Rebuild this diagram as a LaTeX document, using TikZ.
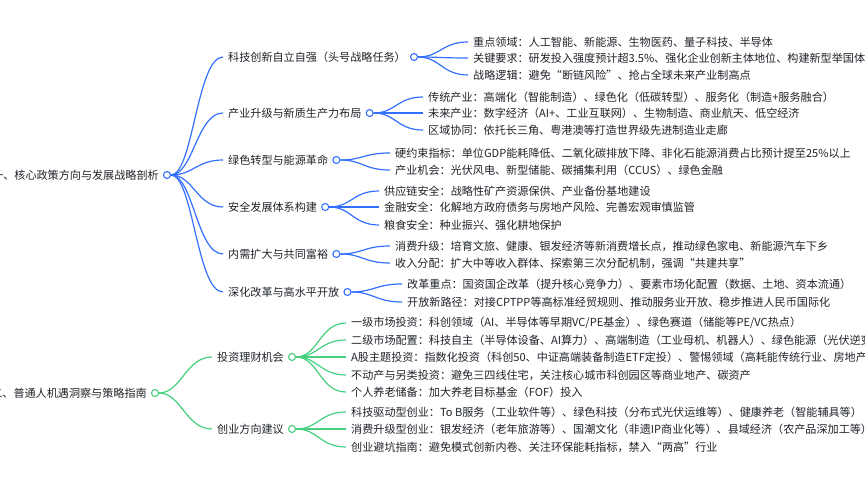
\documentclass[tikz,border=0pt]{standalone}
\usepackage{fontspec}
\setmainfont{Noto Sans CJK SC}
\usetikzlibrary{positioning}

\definecolor{mapblue}{RGB}{51,112,255}
\definecolor{mapgreen}{RGB}{70,208,125}
\definecolor{inkgray}{RGB}{31,35,41}

\begin{document}
\begin{tikzpicture}[
    x=1pt, y=-1pt,
    every node/.style={font=\fontsize{11.1}{13}\selectfont, text=inkgray},
    topic/.style={inner sep=0pt, anchor=west},
    hub/.style={circle, fill=white, line width=1.1pt, inner sep=0pt, minimum size=7pt},
    bline/.style={draw=mapblue, line width=1.2pt},
    gline/.style={draw=mapgreen, line width=1.2pt}
]
\useasboundingbox (0,0) rectangle (865,486);
\clip (0,0) rectangle (865,486);

% part one
\node[hub, draw=mapblue] (r1h) at (167,175) {};
\node[topic, left=4pt of r1h] (r1) {一、核心政策方向与发展战略剖析};

\node[topic] (k1) at (228,57) {科技创新自立自强（头号战略任务）};
\node[topic] (k2) at (228,113) {产业升级与新质生产力布局};
\node[topic] (k3) at (228,160) {绿色转型与能源革命};
\node[topic] (k4) at (228,207) {安全发展体系构建};
\node[topic] (k5) at (228,254) {内需扩大与共同富裕};
\node[topic] (k6) at (228,292) {深化改革与高水平开放};

\foreach \k in {1,...,6}{
  \node[hub, draw=mapblue, right=4pt of k\k] (k\k h) {};
  \draw[bline] (r1h) .. controls +(26,0) and +(-26,0) .. ([xshift=-5pt]k\k.west);
}

\node[topic] (k1a) at (473,42) {重点领域：人工智能、新能源、生物医药、量子科技、半导体};
\node[topic] (k1b) at (473,58) {关键要求：研发投入强度预计超3.5\%、强化企业创新主体地位、构建新型举国体制};
\node[topic] (k1c) at (473,75) {战略逻辑：避免“断链风险”、抢占全球未来产业制高点};

\node[topic] (k2a) at (428,97) {传统产业：高端化（智能制造）、绿色化（低碳转型）、服务化（制造+服务融合）};
\node[topic] (k2b) at (428,113) {未来产业：数字经济（AI+、工业互联网）、生物制造、商业航天、低空经济};
\node[topic] (k2c) at (428,130) {区域协同：依托长三角、粤港澳等打造世界级先进制造业走廊};

\node[topic] (k3a) at (395,153) {硬约束指标：单位GDP能耗降低、二氧化碳排放下降、非化石能源消费占比预计提至25\%以上};
\node[topic] (k3b) at (395,170) {产业机会：光伏风电、新型储能、碳捕集利用（CCUS）、绿色金融};

\node[topic] (k4a) at (384,191) {供应链安全：战略性矿产资源保供、产业备份基地建设};
\node[topic] (k4b) at (384,207) {金融安全：化解地方政府债务与房地产风险、完善宏观审慎监管};
\node[topic] (k4c) at (384,225) {粮食安全：种业振兴、强化耕地保护};

\node[topic] (k5a) at (395,246) {消费升级：培育文旅、健康、银发经济等新消费增长点，推动绿色家电、新能源汽车下乡};
\node[topic] (k5b) at (395,263) {收入分配：扩大中等收入群体、探索第三次分配机制，强调“共建共享”};

\node[topic] (k6a) at (407,284) {改革重点：国资国企改革（提升核心竞争力）、要素市场化配置（数据、土地、资本流通）};
\node[topic] (k6b) at (407,302) {开放新路径：对接CPTPP等高标准经贸规则、推动服务业开放、稳步推进人民币国际化};

\foreach \c in {a,b,c}{
  \draw[bline] (k1h) .. controls +(26,0) and +(-26,0) .. ([xshift=-5pt]k1\c.west);
  \draw[bline] (k2h) .. controls +(26,0) and +(-26,0) .. ([xshift=-5pt]k2\c.west);
  \draw[bline] (k4h) .. controls +(26,0) and +(-26,0) .. ([xshift=-5pt]k4\c.west);
}
\foreach \k in {3,5,6}{
  \foreach \c in {a,b}
    \draw[bline] (k\k h) .. controls +(26,0) and +(-26,0) .. ([xshift=-5pt]k\k\c.west);
}

% part two
\node[hub, draw=mapgreen] (r2h) at (155,393) {};
\node[topic, left=4pt of r2h] (r2) {二、普通人机遇洞察与策略指南};

\node[topic] (g1) at (217,357) {投资理财机会};
\node[topic] (g2) at (217,429) {创业方向建议};

\foreach \g in {1,2}{
  \node[hub, draw=mapgreen, right=4pt of g\g] (g\g h) {};
  \draw[gline] (r2h) .. controls +(26,0) and +(-26,0) .. ([xshift=-5pt]g\g.west);
}

\node[topic] (g1a) at (351,323) {一级市场投资：科创领域（AI、半导体等早期VC/PE基金）、绿色赛道（储能等PE/VC热点）};
\node[topic] (g1b) at (351,340) {二级市场配置：科技自主（半导体设备、AI算力）、高端制造（工业母机、机器人）、绿色能源（光伏逆变器};
\node[topic] (g1c) at (351,357) {A股主题投资：指数化投资（科创50、中证高端装备制造ETF定投）、警惕领域（高耗能传统行业、房地产依};
\node[topic] (g1d) at (351,375) {不动产与另类投资：避免三四线住宅，关注核心城市科创园区等商业地产、碳资产};
\node[topic] (g1e) at (351,392) {个人养老储备：加大养老目标基金（FOF）投入};

\node[topic] (g2a) at (351,412) {科技驱动型创业：To B服务（工业软件等）、绿色科技（分布式光伏运维等）、健康养老（智能辅具等）};
\node[topic] (g2b) at (351,429) {消费升级型创业：银发经济（老年旅游等）、国潮文化（非遗IP商业化等）、县域经济（农产品深加工等）};
\node[topic] (g2c) at (351,447) {创业避坑指南：避免模式创新内卷、关注环保能耗指标，禁入“两高”行业};

\foreach \c in {a,b,c,d,e}
  \draw[gline] (g1h) .. controls +(26,0) and +(-26,0) .. ([xshift=-5pt]g1\c.west);
\foreach \c in {a,b,c}
  \draw[gline] (g2h) .. controls +(26,0) and +(-26,0) .. ([xshift=-5pt]g2\c.west);

\end{tikzpicture}
\end{document}
